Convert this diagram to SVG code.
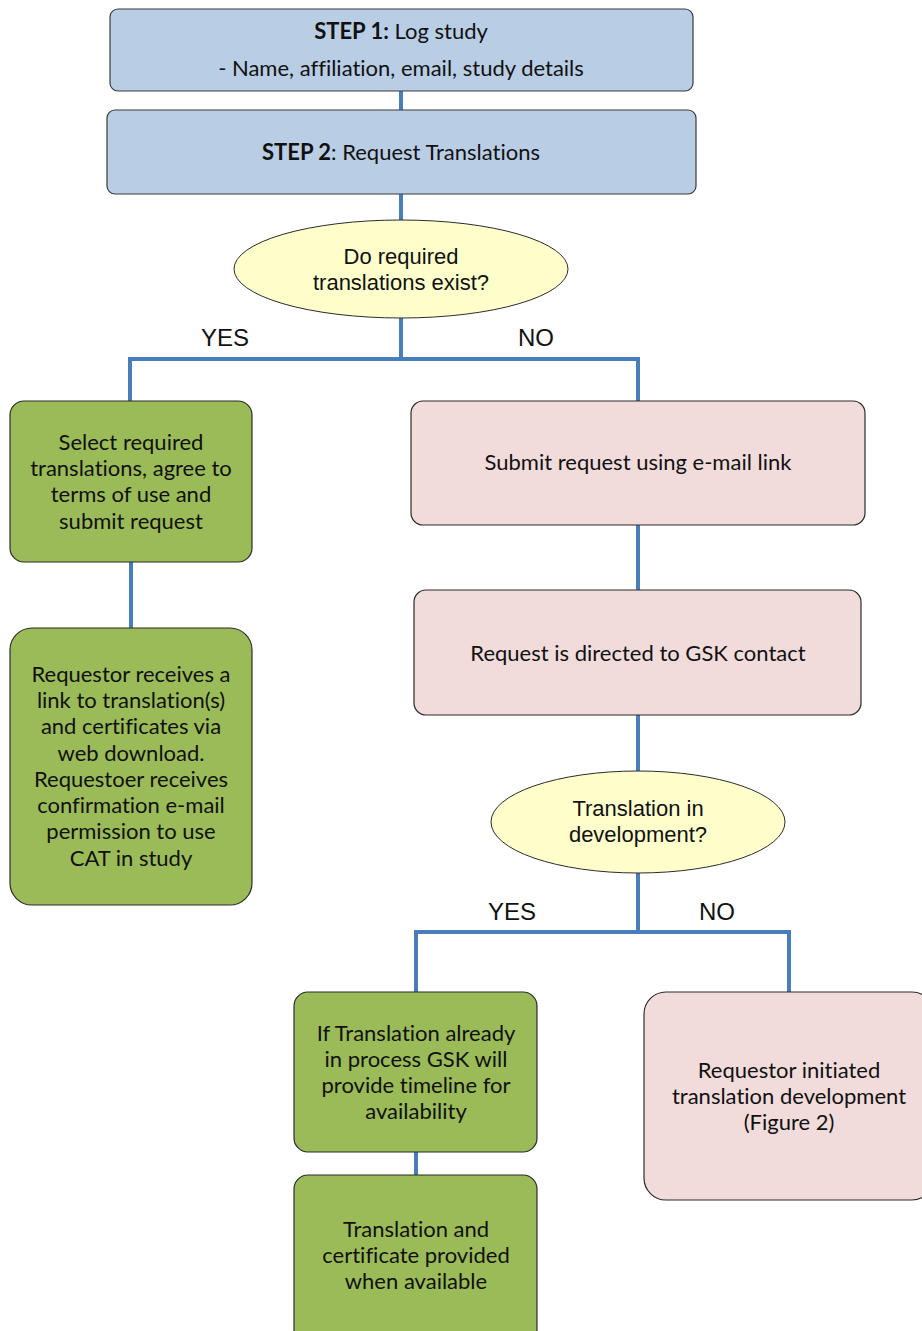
<svg xmlns="http://www.w3.org/2000/svg" width="922" height="1331" viewBox="0 0 922 1331">
<style>
.blue{fill:#B9CDE5;stroke:#3a3a3a;stroke-width:1.2}
.green{fill:#9BBB59;stroke:#2b2b2b;stroke-width:1.2}
.pink{fill:#F2DCDB;stroke:#2b2b2b;stroke-width:1.2}
.dec{fill:#FFFFCC;stroke:#2b2b2b;stroke-width:1}
.t{font-family:Lato,"Liberation Sans",sans-serif;font-size:22px;fill:#111;text-anchor:middle;dominant-baseline:central;font-variant-ligatures:none}
.e{font-family:"Liberation Sans",Arial,sans-serif;font-size:22px;fill:#111;text-anchor:middle;dominant-baseline:central}
.lbl{font-family:"Liberation Sans",Arial,sans-serif;font-size:24px;fill:#111;text-anchor:middle;dominant-baseline:central}
.c{fill:none;stroke:#4A7EBB;stroke-width:4;stroke-linejoin:miter}
</style>
<rect width="922" height="1331" fill="#fff"/>
<g id="connectors">
<line class="c" x1="401" y1="91" x2="401" y2="110"/>
<line class="c" x1="401" y1="194" x2="401" y2="220"/>
<path class="c" d="M401 318 V359 M130 401 V359 H638 V401"/>
<line class="c" x1="131" y1="562" x2="131" y2="628"/>
<line class="c" x1="638" y1="525" x2="638" y2="590"/>
<line class="c" x1="638" y1="715" x2="638" y2="771"/>
<path class="c" d="M638 872 V932 M416 992 V932 H789 V992"/>
<line class="c" x1="416" y1="1152" x2="416" y2="1175"/>
</g>
<g id="labels">
<text class="lbl" x="225" y="337">YES</text>
<text class="lbl" x="536" y="337">NO</text>
<text class="lbl" x="512" y="911">YES</text>
<text class="lbl" x="717" y="911">NO</text>
</g>
<g id="step1">
<rect class="blue" x="110" y="9" width="583" height="82" rx="8"/>
<text class="t" x="401" y="30"><tspan font-weight="bold">STEP 1:</tspan> Log study</text>
<text class="t" x="401" y="67">- Name, affiliation, email, study details</text>
</g>
<g id="step2">
<rect class="blue" x="107" y="110" width="589" height="84" rx="8"/>
<text class="t" x="401" y="151"><tspan font-weight="bold">STEP 2</tspan>: Request Translations</text>
</g>
<g id="decision1">
<ellipse class="dec" cx="401" cy="269" rx="167" ry="49"/>
<text class="e" x="401" y="256">Do required</text>
<text class="e" x="401" y="282">translations exist?</text>
</g>
<g id="select">
<rect class="green" x="10" y="401" width="242" height="161" rx="14"/>
<text class="t" x="131" y="441">Select required</text>
<text class="t" x="131" y="467">translations, agree to</text>
<text class="t" x="131" y="493">terms of use and</text>
<text class="t" x="131" y="520">submit request</text>
</g>
<g id="receives">
<rect class="green" x="10" y="628" width="242" height="277" rx="22"/>
<text class="t" x="131" y="673">Requestor receives a</text>
<text class="t" x="131" y="699">link to translation(s)</text>
<text class="t" x="131" y="725">and certificates via</text>
<text class="t" x="131" y="752">web download.</text>
<text class="t" x="131" y="778">Requestoer receives</text>
<text class="t" x="131" y="804">confirmation e-mail</text>
<text class="t" x="131" y="830">permission to use</text>
<text class="t" x="131" y="857">CAT in study</text>
</g>
<g id="submit">
<rect class="pink" x="411" y="401" width="454" height="124" rx="12"/>
<text class="t" x="638" y="461">Submit request using e-mail link</text>
</g>
<g id="directed">
<rect class="pink" x="414" y="590" width="447" height="125" rx="12"/>
<text class="t" x="638" y="652">Request is directed to GSK contact</text>
</g>
<g id="decision2">
<ellipse class="dec" cx="638" cy="822" rx="147" ry="51"/>
<text class="e" x="638" y="808">Translation  in</text>
<text class="e" x="638" y="834">development?</text>
</g>
<g id="inprocess">
<rect class="green" x="294" y="992" width="243" height="160" rx="14"/>
<text class="t" x="416" y="1032">If Translation already</text>
<text class="t" x="416" y="1058">in process GSK will</text>
<text class="t" x="416" y="1084">provide  timeline for</text>
<text class="t" x="416" y="1110">availability</text>
</g>
<g id="provided">
<rect class="green" x="294" y="1175" width="243" height="170" rx="14"/>
<text class="t" x="416" y="1228">Translation and</text>
<text class="t" x="416" y="1254">certificate provided</text>
<text class="t" x="416" y="1280">when available</text>
</g>
<g id="initiated">
<rect class="pink" x="644" y="992" width="290" height="208" rx="22"/>
<text class="t" x="789" y="1069">Requestor initiated</text>
<text class="t" x="789" y="1095">translation development</text>
<text class="t" x="789" y="1121">(Figure 2)</text>
</g>
</svg>
